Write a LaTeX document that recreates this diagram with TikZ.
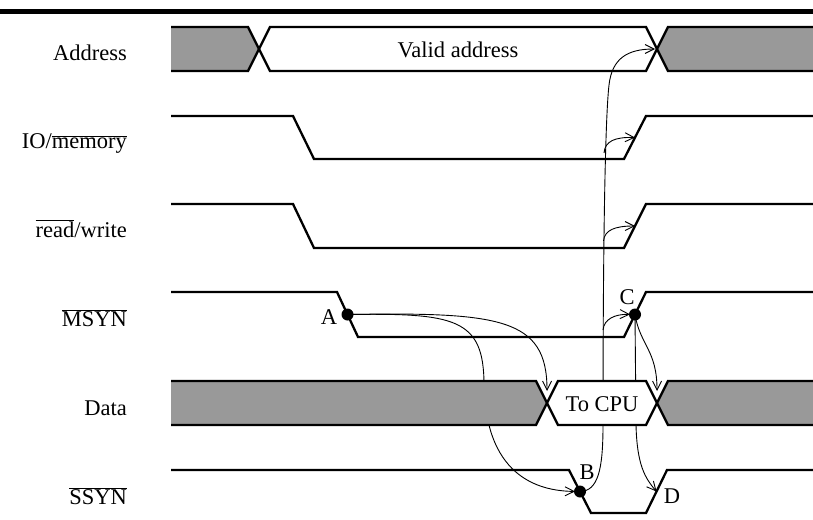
\documentclass[tikz,border=0pt]{standalone}
\usepackage{fontspec}
\setmainfont{Liberation Serif}
\usetikzlibrary{arrows.meta}
\definecolor{busg}{gray}{0.6}
\newcommand\ovl[1]{\(\overline{\mbox{#1}}\)}
\begin{document}
\begin{tikzpicture}[x=1pt,y=-1pt,
  sig/.style={line width=2.3pt, line join=miter},
  arr/.style={line width=0.9pt, -{Straight Barb[length=9pt,width=9pt,line width=0.9pt]}},
  lbl/.style={font=\fontsize{22.5}{26}\selectfont, inner sep=0pt},
  dot/.style={circle, fill=black, inner sep=0pt, minimum size=12pt}
]
\useasboundingbox (0,0) rectangle (813,519);
\fill (0,9) rectangle (813,14.5);

% row labels
\node[lbl, anchor=base east] (lAddr) at (127,60) {Address};
\node[lbl, anchor=base east] (lIO) at (127,148) {IO/\ovl{memory}};
\node[lbl, anchor=base east] (lRW) at (127,237) {\ovl{read}/write};
\node[lbl, anchor=base east] (lMS) at (127,326) {\ovl{MSYN}};
\node[lbl, anchor=base east] (lData) at (127,415) {Data};
\node[lbl, anchor=base east] (lSS) at (127,504) {\ovl{SSYN}};

% address bus
\fill[busg] (171,27) -- (248,27) -- (259,49) -- (248,71) -- (171,71) -- cycle;
\draw[sig] (171,27) -- (248,27) -- (259,49) -- (248,71) -- (171,71);
\draw[sig] (259,49) -- (270,27) -- (646,27) -- (657,49) -- (646,71) -- (270,71) -- cycle;
\node[lbl, anchor=base] (valid) at (458,57) {Valid address};
\fill[busg] (657,49) -- (668,27) -- (813,27) -- (813,71) -- (668,71) -- cycle;
\draw[sig] (813,27) -- (668,27) -- (657,49) -- (668,71) -- (813,71);

% control signals
\draw[sig] (171,116) -- (293,116) -- (314,159) -- (624,159) -- (646,116) -- (813,116);
\draw[sig] (171,204) -- (293,204) -- (314,248) -- (624,248) -- (646,204) -- (813,204);
\draw[sig] (171,292) -- (337,292) -- (358,337) -- (624,337) -- (646,292) -- (813,292);
\draw[sig] (171,470) -- (569,470) -- (591,513) -- (646,513) -- (667,470) -- (813,470);

% key points
\coordinate (A) at (347.5,314.5);
\coordinate (C) at (635,314.5);
\coordinate (B) at (580,491.5);
\coordinate (D) at (656.5,491.5);
\coordinate (addrX) at (655,49);
\coordinate (dataXa) at (547,391);
\coordinate (dataXb) at (657,391);
\coordinate (ioE) at (635,137.5);
\coordinate (rwE) at (635,226);
\coordinate (bIO) at (604,153);
\coordinate (bRW) at (603.5,241);
\coordinate (bMS) at (603,330);

% cause-effect arrows
\draw[arr] (A) .. controls (500,312) and (547,318) .. (dataXa);
\draw[arr, shorten >=5pt] (A) .. controls (455,313) and (484,318) .. (484,385) .. controls (486,482) and (545,491) .. (B);
\draw[arr] (B) .. controls (598,491) and (603,470) .. (603,425) .. controls (603,250) and (605,120) .. (609,85) .. controls (612,58) and (628,49) .. (addrX);
\draw[arr] (bIO) .. controls (605,141) and (615,137) .. (ioE);
\draw[arr] (bRW) .. controls (604.5,230) and (615,226) .. (rwE);
\draw[arr, shorten >=5pt] (bMS) .. controls (604,319) and (615,314) .. (C);
\draw[arr] (C) .. controls (640,345) and (657,350) .. (dataXb);
\draw[arr] (C) -- (636,425) .. controls (637,465) and (645,478) .. (D);

% data bus
\fill[busg] (171,381) -- (536,381) -- (547,403) -- (536,425) -- (171,425) -- cycle;
\draw[sig] (171,381) -- (536,381) -- (547,403) -- (536,425) -- (171,425);
\draw[sig, fill=white] (547,403) -- (558,381) -- (646,381) -- (657,403) -- (646,425) -- (558,425) -- cycle;
\node[lbl, anchor=base] (tocpu) at (602,411) {To CPU};
\fill[busg] (657,403) -- (668,381) -- (813,381) -- (813,425) -- (668,425) -- cycle;
\draw[sig] (813,381) -- (668,381) -- (657,403) -- (668,425) -- (813,425);

% dots and point labels
\node[dot] (Ad) at (A) {};
\node[dot] (Bd) at (B) {};
\node[dot] (Cd) at (C) {};
\node[lbl] (Al) at (329,317) {A};
\node[lbl] (Bl) at (587,472) {B};
\node[lbl] (Cl) at (627,297) {C};
\node[lbl] (Dl) at (672,496) {D};
\end{tikzpicture}
\end{document}
